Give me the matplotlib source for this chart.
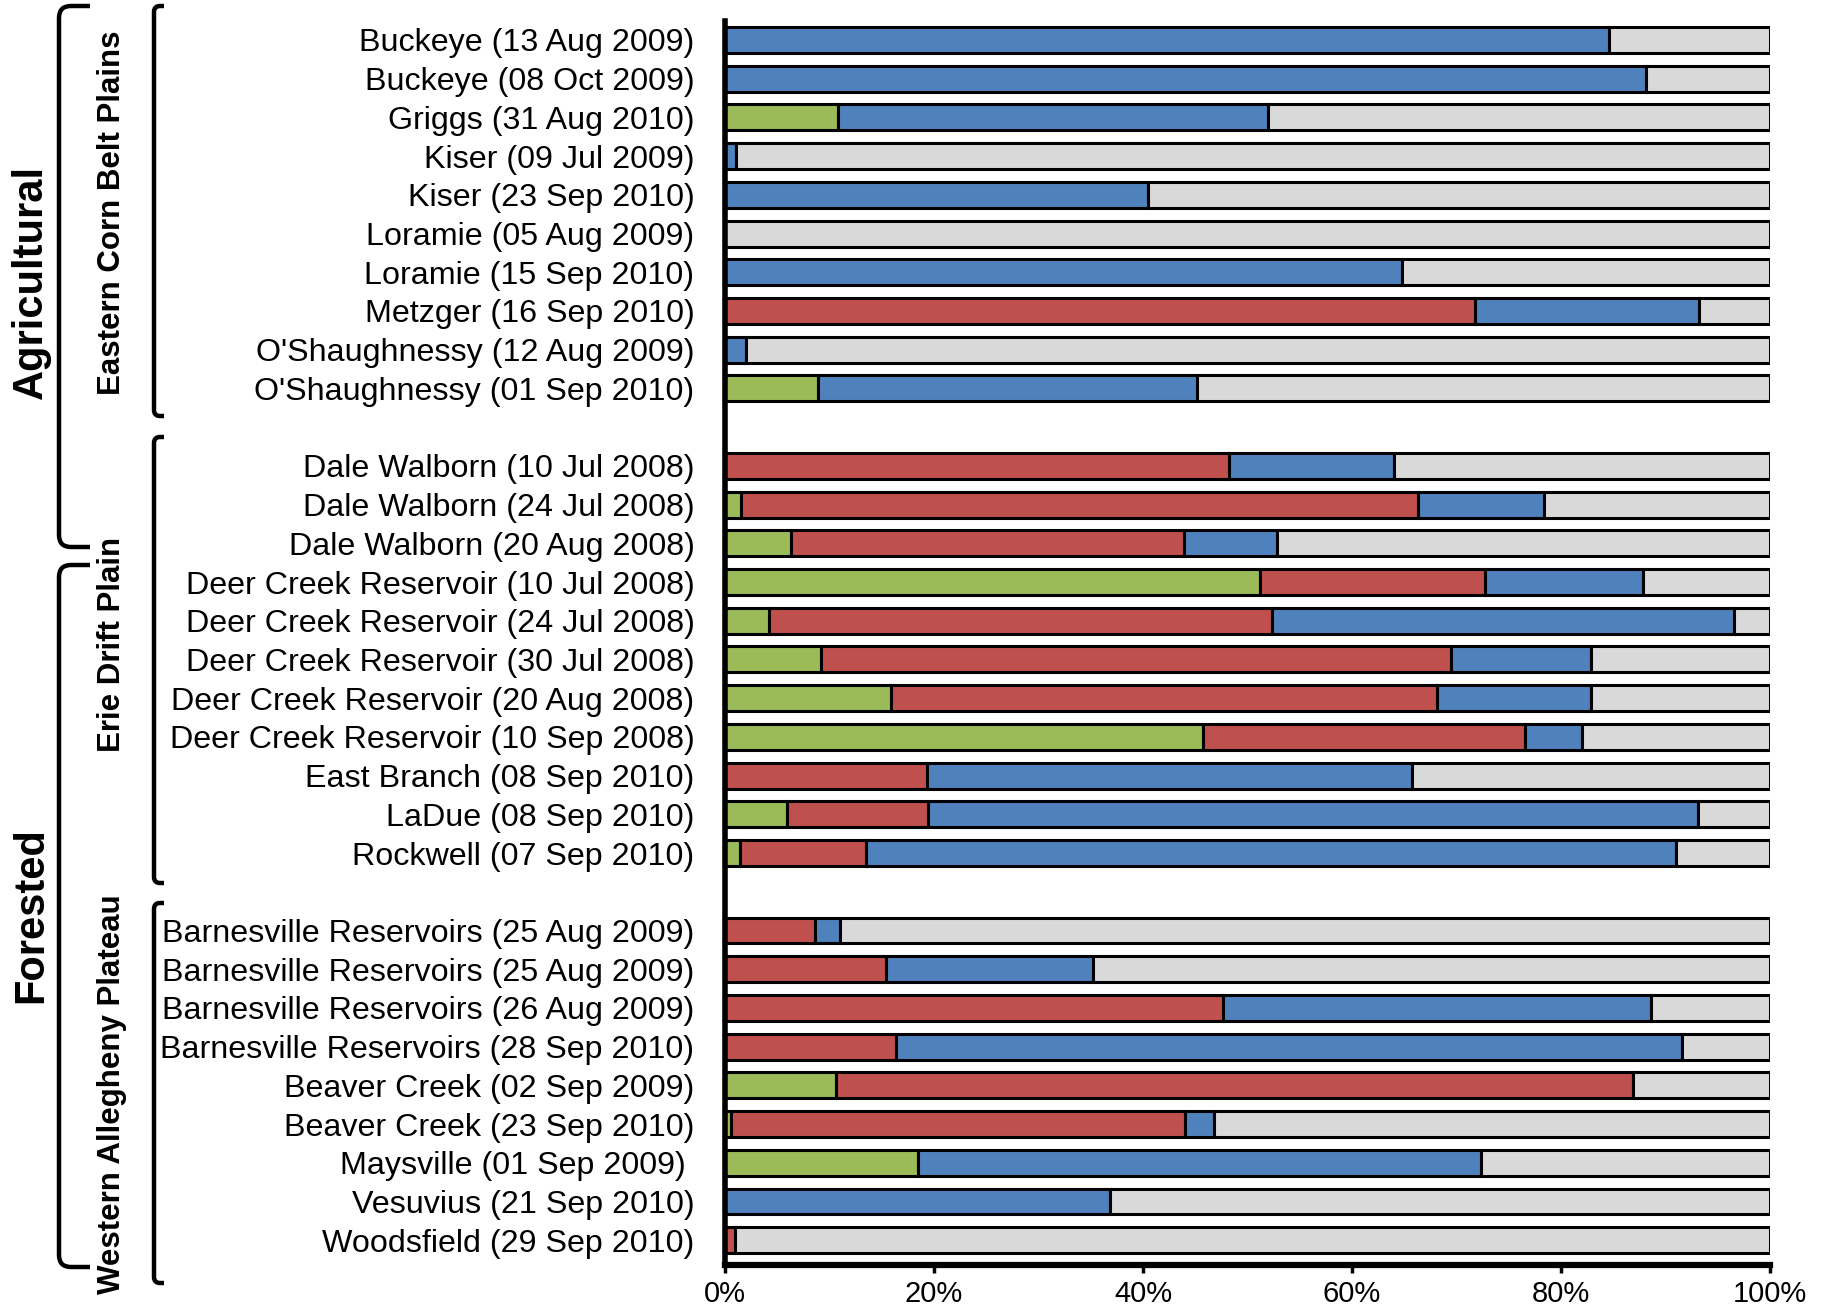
import numpy as np
import matplotlib.pyplot as plt
from matplotlib.path import Path
from matplotlib.patches import PathPatch

plt.rcParams['font.family'] = ['Liberation Sans', 'DejaVu Sans']

# Sampling events, top to bottom
sites = [
    "Buckeye (13 Aug 2009)", "Buckeye (08 Oct 2009)", "Griggs (31 Aug 2010)",
    "Kiser (09 Jul 2009)", "Kiser (23 Sep 2010)", "Loramie (05 Aug 2009)",
    "Loramie (15 Sep 2010)", "Metzger (16 Sep 2010)", "O'Shaughnessy (12 Aug 2009)",
    "O'Shaughnessy (01 Sep 2010)",
    "Dale Walborn (10 Jul 2008)", "Dale Walborn (24 Jul 2008)", "Dale Walborn (20 Aug 2008)",
    "Deer Creek Reservoir (10 Jul 2008)", "Deer Creek Reservoir (24 Jul 2008)",
    "Deer Creek Reservoir (30 Jul 2008)", "Deer Creek Reservoir (20 Aug 2008)",
    "Deer Creek Reservoir (10 Sep 2008)", "East Branch (08 Sep 2010)",
    "LaDue (08 Sep 2010)", "Rockwell (07 Sep 2010)",
    "Barnesville Reservoirs (25 Aug 2009)", "Barnesville Reservoirs (25 Aug 2009)",
    "Barnesville Reservoirs (26 Aug 2009)", "Barnesville Reservoirs (28 Sep 2010)",
    "Beaver Creek (02 Sep 2009)", "Beaver Creek (23 Sep 2010)", "Maysville (01 Sep 2009) ",
    "Vesuvius (21 Sep 2010)", "Woodsfield (29 Sep 2010)",
]
# percent of each bar; the grey part is whatever remains to 100 %
green = [0, 0, 10.8, 0, 0, 0, 0, 0, 0, 8.9,
         0, 1.5, 6.3, 51.2, 4.2, 9.2, 15.9, 45.7, 0, 5.9, 1.4,
         0, 0, 0, 0, 10.6, 0.6, 18.5, 0, 0]
red = [0, 0, 0, 0, 0, 0, 0, 71.8, 0, 0,
       48.2, 64.8, 37.6, 21.5, 48.1, 60.3, 52.2, 30.9, 19.3, 13.5, 12.1,
       8.6, 15.4, 47.7, 16.4, 76.3, 43.4, 0, 0, 1.0]
blue = [84.6, 88.1, 41.2, 1.1, 40.5, 0, 64.8, 21.4, 2.0, 36.3,
        15.8, 12.1, 8.9, 15.1, 44.3, 13.4, 14.8, 5.4, 46.4, 73.7, 77.5,
        2.4, 19.8, 40.9, 75.2, 0, 2.8, 53.8, 36.8, 0]
group_sizes = [10, 11, 9]

c_green, c_red, c_blue, c_grey = "#9BBB59", "#C0504D", "#4F81BD", "#D9D9D9"

green = np.array(green)
red = np.array(red)
blue = np.array(blue)
grey = 100 - green - red - blue

# leave an empty row between regions
pos = []
row = 0
for n in group_sizes:
    pos.extend(range(row, row + n))
    row += n + 1
pos = np.array(pos)

fig = plt.figure(figsize=(18.45, 13.12), dpi=100)
ax = fig.add_axes([725 / 1845, 1 - 1265 / 1312, 1045 / 1845, 1244 / 1312])

h = 0.67
kw = dict(height=h, edgecolor="black", linewidth=2.2)
left = np.zeros(len(sites))
for vals, col in [(green, c_green), (red, c_red), (blue, c_blue), (grey, c_grey)]:
    m = vals > 0
    ax.barh(pos[m], vals[m], left=left[m], color=col, **kw)
    left = left + vals

ax.set_xlim(0, 100)
ax.set_ylim(pos[-1] + 0.64, -0.49)
ax.set_yticks(pos)
ax.set_yticklabels(sites, fontsize=23.2)
ax.tick_params(axis="y", length=0, pad=22)
ax.set_xticks(np.arange(0, 101, 20))
ax.set_xticklabels([f"{v}%" for v in range(0, 101, 20)],
                   family=["Liberation Sans Narrow", "Liberation Sans"], fontsize=21)
ax.tick_params(axis="x", length=6, width=2.5, pad=5, direction="out")
for s in ["top", "right"]:
    ax.spines[s].set_visible(False)
ax.spines["left"].set_linewidth(4)
ax.spines["bottom"].set_linewidth(4.5)

# brackets and group labels in pixel coordinates
ov = fig.add_axes([0, 0, 1, 1], zorder=-1)
ov.set_xlim(0, 1845)
ov.set_ylim(1312, 0)
ov.axis("off")


def bracket(x, y0, y1, x_end, r=6, lw=3.2):
    verts = [(x_end, y0), (x + r, y0), (x, y0), (x, y0 + r),
             (x, y1 - r), (x, y1), (x + r, y1), (x_end, y1)]
    codes = [Path.MOVETO, Path.LINETO, Path.CURVE3, Path.CURVE3,
             Path.LINETO, Path.CURVE3, Path.CURVE3, Path.LINETO]
    ov.add_patch(PathPatch(Path(verts, codes), fill=False, lw=lw,
                           edgecolor="black", capstyle="butt"))


bracket(59, 6, 547, 90, r=12)
bracket(59, 565, 1267, 90, r=12)
bracket(154, 6, 416, 164)
bracket(154, 437, 883, 164)
bracket(154, 903, 1283, 164)

ov.text(31, 282, "Agricultural", rotation=90, ha="center", va="center",
        fontsize=30, fontweight="bold")
ov.text(31, 915, "Forested", rotation=90, ha="center", va="center",
        fontsize=30, fontweight="bold")
for label, yc in [("Eastern Corn Belt Plains", 213), ("Erie Drift Plain", 644),
                  ("Western Allegheny Plateau", 1094)]:
    ov.text(112, yc, label, rotation=90, ha="center", va="center",
            fontsize=22.5, fontweight="bold")

fig.savefig("out.png", dpi=100)
